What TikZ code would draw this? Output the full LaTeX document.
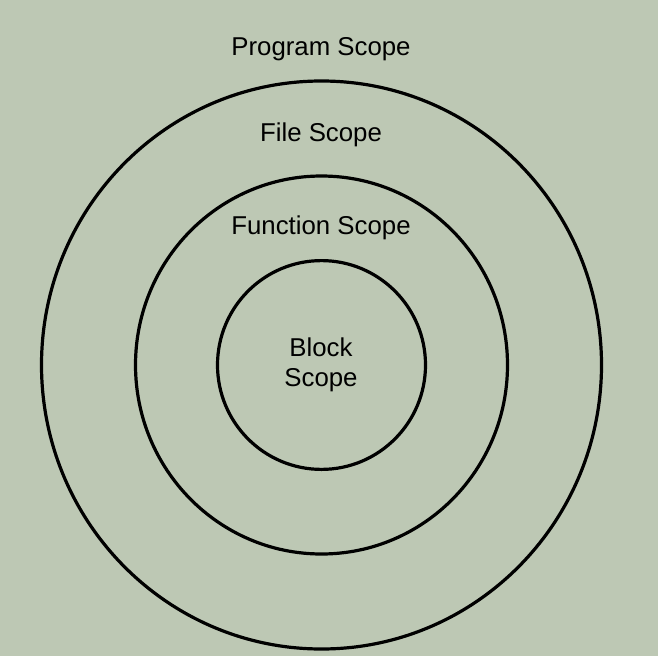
\documentclass[tikz,border=0pt]{standalone}
\usepackage{fontspec}
\setmainfont{Liberation Sans}
\definecolor{bgcol}{RGB}{189,200,180}
\begin{document}
\begin{tikzpicture}[x=1pt,y=-1pt,
  ring/.style={draw=black,line width=3.2pt},
  lbl/.style={font=\fontsize{25.8}{30}\selectfont,text=black,inner sep=0pt,anchor=base,align=center}]
\useasboundingbox (0,0) rectangle (658,662);
\fill[white] (0,0) rectangle (658,662);
\fill[bgcol] (0,0) rectangle (658,656);
\coordinate (c) at (321.5,365);
\draw[ring] (c) ellipse [x radius=280, y radius=284];
\draw[ring] (c) ellipse [x radius=186, y radius=189];
\draw[ring] (c) ellipse [x radius=104, y radius=104.4];
\node[lbl] (program) at (321,55.7) {Program Scope};
\node[lbl] (file) at (321,141.7) {File Scope};
\node[lbl] (function) at (321,234) {Function Scope};
\node[lbl] (block) at (321,386.7) {Block\\Scope};
\end{tikzpicture}
\end{document}
